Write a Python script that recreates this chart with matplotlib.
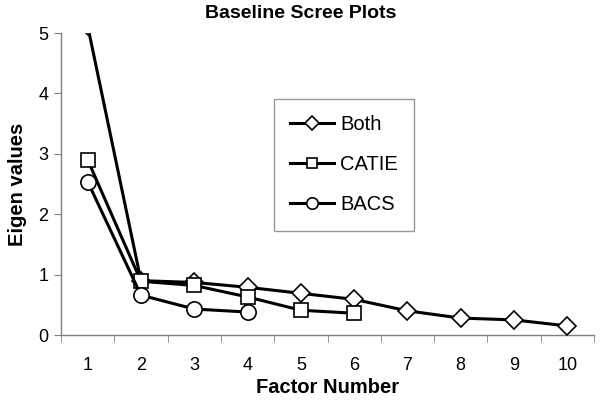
import matplotlib
matplotlib.use("Agg")
import matplotlib.pyplot as plt
import numpy as np

factors = [1, 2, 3, 4, 5, 6, 7, 8, 9, 10]
both = [5.12, 0.90, 0.87, 0.79, 0.69, 0.59, 0.40, 0.28, 0.25, 0.15]
catie_x = [1, 2, 3, 4, 5, 6]
catie = [2.90, 0.89, 0.82, 0.63, 0.41, 0.36]
bacs_x = [1, 2, 3, 4]
bacs = [2.54, 0.66, 0.43, 0.38]
yticks = [0, 1, 2, 3, 4, 5]

plt.rcParams['font.family'] = ['Liberation Sans', 'DejaVu Sans']

fig = plt.figure(figsize=(6.02, 4.03), dpi=100)
ax = fig.add_axes([61/602, 1-335/403, 533/602, 302/403])

lw = 2.2
ax.plot(factors, both, color='black', lw=lw, marker='D', ms=9,
        mfc='white', mec='black', mew=1.2, label='Both', zorder=3)
ax.plot(catie_x, catie, color='black', lw=lw, marker='s', ms=10.5,
        mfc='white', mec='black', mew=1.2, label='CATIE', zorder=4)
ax.plot(bacs_x, bacs, color='black', lw=lw, marker='o', ms=11,
        mfc='white', mec='black', mew=1.2, label='BACS', zorder=5)

ax.set_xlim(0.5, 10.5)
ax.set_ylim(0, 5)
ax.set_yticks(yticks)
ax.set_yticklabels([str(v) for v in yticks], fontsize=13)
ax.set_xticks(factors)
ax.set_xticklabels([str(v) for v in factors], fontsize=13)
ax.tick_params(axis='x', length=0, pad=16)
ax.set_xticks(np.arange(0.5, 11.0, 1.0), minor=True)
ax.tick_params(axis='x', which='minor', length=5, direction='out', color='#808080')
ax.tick_params(axis='y', length=5, direction='out', color='#808080', pad=4)

for s in ['top', 'right']:
    ax.spines[s].set_visible(False)
for s in ['left', 'bottom']:
    ax.spines[s].set_color('#808080')
    ax.spines[s].set_linewidth(1.0)

fig.text(0.5, 1-13/403, 'Baseline Scree Plots', fontsize=14, fontweight='bold',
         ha='center', va='center')
ax.set_xlabel('Factor Number', fontsize=14.5, fontweight='bold', labelpad=3)
ax.set_ylabel('Eigen values', fontsize=14.5, fontweight='bold', labelpad=8)

leg = ax.legend(loc='upper left', bbox_to_anchor=((274-61)/533, (335-99)/302),
                fontsize=14.5, frameon=True, fancybox=False, edgecolor='#808080',
                handlelength=2.2, labelspacing=1.05, borderpad=0.8, handletextpad=0.3,
                markerscale=0.75, borderaxespad=0)
leg.get_frame().set_linewidth(1.0)

fig.savefig('out.png', dpi=100)
